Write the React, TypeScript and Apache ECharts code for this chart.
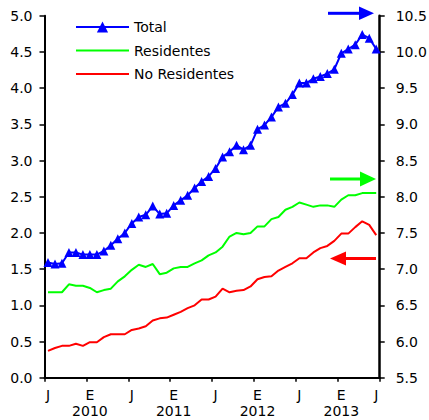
import React, { useEffect, useRef } from "react";
import * as echarts from "echarts";

const months: string[] = [
  "2009-07", "2009-08", "2009-09", "2009-10", "2009-11", "2009-12",
  "2010-01", "2010-02", "2010-03", "2010-04", "2010-05", "2010-06",
  "2010-07", "2010-08", "2010-09", "2010-10", "2010-11", "2010-12",
  "2011-01", "2011-02", "2011-03", "2011-04", "2011-05", "2011-06",
  "2011-07", "2011-08", "2011-09", "2011-10", "2011-11", "2011-12",
  "2012-01", "2012-02", "2012-03", "2012-04", "2012-05", "2012-06",
  "2012-07", "2012-08", "2012-09", "2012-10", "2012-11", "2012-12",
  "2013-01", "2013-02", "2013-03", "2013-04", "2013-05", "2013-06",
];

const monthInitials: string[] = ["E", "F", "M", "A", "M", "J", "J", "A", "S", "O", "N", "D"];

// Right axis (5.5 - 10.5)
const total: number[] = [
  7.09, 7.07, 7.08, 7.23, 7.23, 7.2, 7.2, 7.2, 7.25, 7.33, 7.42, 7.5,
  7.63, 7.72, 7.75, 7.87, 7.76, 7.77, 7.88, 7.95, 8.02, 8.12, 8.21, 8.28,
  8.39, 8.55, 8.62, 8.71, 8.65, 8.71, 8.93, 8.99, 9.1, 9.24, 9.29, 9.41,
  9.57, 9.57, 9.63, 9.66, 9.7, 9.76, 9.98, 10.04, 10.1, 10.24, 10.19, 10.04,
];

// Right axis (5.5 - 10.5)
const residentes: number[] = [
  6.68, 6.68, 6.68, 6.79, 6.77, 6.77, 6.74, 6.68, 6.71, 6.73, 6.83, 6.9,
  6.99, 7.06, 7.03, 7.07, 6.93, 6.95, 7.01, 7.03, 7.03, 7.08, 7.12, 7.19,
  7.23, 7.31, 7.45, 7.5, 7.48, 7.5, 7.59, 7.59, 7.69, 7.72, 7.82, 7.86,
  7.92, 7.89, 7.86, 7.88, 7.88, 7.86, 7.96, 8.02, 8.02, 8.05, 8.05, 8.05,
];

// Left axis (0 - 5)
const noResidentes: number[] = [
  0.37, 0.41, 0.44, 0.44, 0.47, 0.44, 0.49, 0.49, 0.56, 0.6, 0.6, 0.6,
  0.66, 0.68, 0.71, 0.79, 0.82, 0.83, 0.87, 0.91, 0.96, 1.0, 1.08, 1.08,
  1.12, 1.23, 1.18, 1.2, 1.21, 1.26, 1.36, 1.39, 1.4, 1.48, 1.53, 1.58,
  1.65, 1.65, 1.73, 1.79, 1.82, 1.89, 1.99, 1.99, 2.08, 2.16, 2.11, 1.97,
];

const seriesNames: string[] = ["Total", "Residentes", "No Residentes"];

const FONT = "DejaVu Sans";
const LINE_ICON = "path://M0,0 L53,0 L53,2 L0,2 Z";

function rightArrow(x1: number, x2: number, y: number, half: number, headLen: number, color: string) {
  return [
    { type: "line", shape: { x1, y1: y, x2: x2 - headLen + 1, y2: y }, style: { stroke: color, lineWidth: 3 } },
    { type: "polygon", shape: { points: [[x2 - headLen, y - half], [x2, y], [x2 - headLen, y + half]] }, style: { fill: color } },
  ];
}

function leftArrow(x1: number, x2: number, y: number, half: number, headLen: number, color: string) {
  return [
    { type: "line", shape: { x1: x1 + headLen - 1, y1: y, x2, y2: y }, style: { stroke: color, lineWidth: 3 } },
    { type: "polygon", shape: { points: [[x1 + headLen, y - half], [x1, y], [x1 + headLen, y + half]] }, style: { fill: color } },
  ];
}

export default function App() {
  const ref = useRef<HTMLDivElement>(null);
  useEffect(() => {
    if (!ref.current) return;
    const chart = echarts.init(ref.current, null, { renderer: "svg" });
    const axisText = { color: "#000", fontFamily: FONT, fontSize: 14 };
    chart.setOption({
      animation: false,
      backgroundColor: "#fff",
      grid: {
        left: 44.5,
        right: 49.3,
        top: 15.7,
        bottom: 42.3,
        containLabel: false,
        outerBoundsMode: "none",
      },
      legend: {
        data: [
          { name: seriesNames[0] },
          { name: seriesNames[1], icon: LINE_ICON },
          { name: seriesNames[2], icon: LINE_ICON },
        ],
        orient: "vertical",
        left: 70,
        top: 15,
        itemWidth: 53,
        itemHeight: 14,
        itemGap: 9.5,
        textStyle: { color: "#000", fontFamily: FONT, fontSize: 14 },
        selectedMode: false,
      },
      xAxis: {
        type: "category",
        data: months,
        boundaryGap: true,
        axisLine: { lineStyle: { color: "#000", width: 2 } },
        axisTick: {
          show: true,
          length: 4,
          interval: (i: number) => i % 6 === 0,
          lineStyle: { color: "#000", width: 1.5 },
        },
        axisLabel: {
          ...axisText,
          margin: 10,
          lineHeight: 15.5,
          interval: (i: number) => i % 6 === 0 || i === months.length - 1,
          formatter: (v: string) => {
            const [y, m] = v.split("-");
            const mi = parseInt(m, 10) - 1;
            return mi === 0 ? monthInitials[mi] + "\n" + y : monthInitials[mi];
          },
        },
        splitLine: { show: false },
      },
      yAxis: [
        {
          type: "value",
          min: 0,
          max: 5,
          interval: 0.5,
          position: "left",
          axisLine: { show: true, lineStyle: { color: "#000", width: 2 } },
          axisTick: { show: true, length: 5, lineStyle: { color: "#000", width: 1.5 } },
          axisLabel: { ...axisText, margin: 12, formatter: (v: number) => v.toFixed(1) },
          splitLine: { show: false },
        },
        {
          type: "value",
          min: 5.5,
          max: 10.5,
          interval: 0.5,
          position: "right",
          axisLine: { show: true, lineStyle: { color: "#000", width: 2.5 } },
          axisTick: { show: true, length: 5, lineStyle: { color: "#000", width: 1.5 } },
          axisLabel: { ...axisText, margin: 16, formatter: (v: number) => v.toFixed(1) },
          splitLine: { show: false },
        },
      ],
      series: [
        {
          name: seriesNames[0],
          type: "line",
          yAxisIndex: 1,
          data: total,
          symbol: "triangle",
          symbolSize: 9,
          showAllSymbol: true,
          lineStyle: { color: "#0000ff", width: 2 },
          itemStyle: { color: "#0000ff" },
          z: 5,
        },
        {
          name: seriesNames[1],
          type: "line",
          yAxisIndex: 1,
          data: residentes,
          symbol: "none",
          lineStyle: { color: "#00ff00", width: 2 },
          itemStyle: { color: "#00ff00" },
        },
        {
          name: seriesNames[2],
          type: "line",
          yAxisIndex: 0,
          data: noResidentes,
          symbol: "none",
          lineStyle: { color: "#ff0000", width: 2 },
          itemStyle: { color: "#ff0000" },
        },
      ],
      graphic: [
        ...rightArrow(328, 374, 13.3, 6.7, 15, "#0000ff"),
        ...rightArrow(330, 376, 179, 7.5, 16, "#00ff00"),
        ...leftArrow(330, 376, 258.5, 7, 16, "#ff0000"),
      ],
    });
    return () => chart.dispose();
  }, []);
  return <div ref={ref} style={{ position: "absolute", left: 0, top: 0, width: 429, height: 420 }} />;
}
